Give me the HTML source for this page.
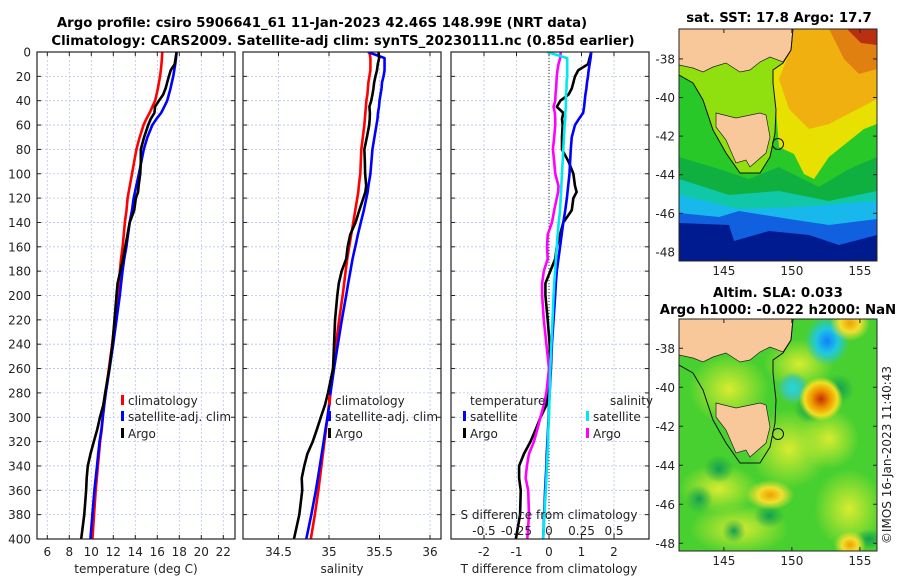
<!DOCTYPE html>
<html><head><meta charset="utf-8"><style>
html,body{margin:0;padding:0;background:#fff;}
svg{display:block;font-family:"DejaVu Sans","Liberation Sans",sans-serif;}
</style></head><body>
<svg id="fig" width="900" height="580" viewBox="0 0 900 580" xmlns="http://www.w3.org/2000/svg">
<defs>
<clipPath id="clipTop"><rect x="0" y="0" width="198" height="232"/></clipPath>
<clipPath id="clipBot"><rect x="0" y="0" width="198" height="232"/></clipPath>
<clipPath id="cp1"><rect x="37" y="52" width="198" height="487"/></clipPath>
<clipPath id="cp2"><rect x="243" y="52" width="198" height="487"/></clipPath>
<clipPath id="cp3"><rect x="451" y="52" width="198" height="487"/></clipPath>
<radialGradient id="gBlue"><stop offset="0" stop-color="#1080ff"/><stop offset="0.5" stop-color="#20c8e0"/><stop offset="1" stop-color="#20c8e0" stop-opacity="0"/></radialGradient>
<radialGradient id="gCyan"><stop offset="0" stop-color="#20d8e0"/><stop offset="0.6" stop-color="#40c8a0"/><stop offset="1" stop-color="#40c8a0" stop-opacity="0"/></radialGradient>
<radialGradient id="gRed"><stop offset="0" stop-color="#c03000"/><stop offset="0.4" stop-color="#f09000"/><stop offset="0.75" stop-color="#f0e020"/><stop offset="1" stop-color="#f0e020" stop-opacity="0"/></radialGradient>
<radialGradient id="gOr"><stop offset="0" stop-color="#f0a000"/><stop offset="0.5" stop-color="#f0e030"/><stop offset="1" stop-color="#f0e030" stop-opacity="0"/></radialGradient>
<radialGradient id="gYel"><stop offset="0" stop-color="#d8ec30"/><stop offset="1" stop-color="#d8ec30" stop-opacity="0"/></radialGradient>
<radialGradient id="gDg"><stop offset="0" stop-color="#10a050"/><stop offset="1" stop-color="#10a050" stop-opacity="0"/></radialGradient>
</defs>

<text x="322" y="27" text-anchor="middle" font-size="13.3" font-weight="bold">Argo profile: csiro 5906641_61 11-Jan-2023 42.46S 148.99E (NRT data)</text>
<text x="343" y="45" text-anchor="middle" font-size="13.3" font-weight="bold">Climatology: CARS2009. Satellite-adj clim: synTS_20230111.nc (0.85d earlier)</text>

<g id="panels"></g>
<g id="maps"></g>

<text x="779" y="22" text-anchor="middle" font-size="13.3" font-weight="bold">sat. SST: 17.8 Argo: 17.7</text>
<text x="778" y="297" text-anchor="middle" font-size="13.3" font-weight="bold">Altim. SLA: 0.033</text>
<text x="778" y="314" text-anchor="middle" font-size="13.3" font-weight="bold">Argo h1000: -0.022 h2000: NaN</text>
<text transform="translate(891,455) rotate(-90)" text-anchor="middle" font-size="12" fill="#222">©IMOS 16-Jan-2023 11:40:43</text>
</svg>
<script>
const depth=[0,5,10,15,20,25,30,35,40,45,50,55,60,70,80,90,100,110,115,120,130,140,150,160,170,180,190,200,220,240,260,280,290,300,310,320,330,340,350,360,380,400];
const climT=[16.45,16.42,16.38,16.32,16.25,16.15,16.05,15.93,15.8,15.55,15.3,15.0,14.75,14.4,14.1,13.9,13.7,13.5,13.4,13.3,13.2,13.05,12.95,12.85,12.7,12.6,12.5,12.4,12.15,11.9,11.6,11.3,11.17,11.05,10.95,10.8,10.7,10.6,10.5,10.4,10.25,10.1];
const tDiffSat=[1.3,1.28,1.25,1.22,1.2,1.17,1.15,1.12,1.1,1.08,1.05,0.92,0.8,0.7,0.67,0.65,0.63,0.59,0.57,0.55,0.5,0.44,0.39,0.34,0.29,0.24,0.21,0.19,0.14,0.09,0.06,0.02,0.0,-0.01,-0.03,-0.05,-0.07,-0.08,-0.1,-0.12,-0.15,-0.18];
const tDiffArgo=[1.3,1.25,1.2,0.9,0.8,0.75,0.7,0.6,0.35,0.24,0.44,0.4,0.42,0.4,0.4,0.6,0.75,0.8,0.85,0.75,0.7,0.44,0.34,0.24,0.19,0.04,-0.11,-0.11,-0.04,0.02,0.04,-0.04,-0.08,-0.26,-0.41,-0.57,-0.77,-0.92,-0.92,-0.87,-0.89,-1.02];
const climS=[35.40,35.41,35.41,35.41,35.40,35.39,35.385,35.38,35.37,35.365,35.36,35.355,35.35,35.335,35.32,35.315,35.31,35.295,35.29,35.28,35.26,35.24,35.22,35.2,35.18,35.165,35.15,35.135,35.1,35.07,35.04,35.01,35.0,34.985,34.97,34.955,34.94,34.925,34.91,34.895,34.86,34.82];
const sDiffSat=[-0.015,0.14,0.14,0.14,0.14,0.135,0.135,0.13,0.13,0.13,0.125,0.125,0.12,0.115,0.11,0.105,0.1,0.095,0.093,0.09,0.085,0.075,0.066,0.06,0.053,0.047,0.04,0.035,0.027,0.018,0.01,0.005,0.002,0,-0.005,-0.008,-0.012,-0.016,-0.02,-0.025,-0.035,-0.045];
const sDiffArgo=[0.09,0.086,0.073,0.065,0.06,0.057,0.055,0.05,0.048,0.035,0.045,0.048,0.048,0.04,0.03,0.04,0.048,0.073,0.07,0.06,0.04,0.023,-0.01,-0.015,-0.01,-0.04,-0.053,-0.053,-0.04,-0.02,0,-0.02,-0.04,-0.066,-0.09,-0.116,-0.154,-0.17,-0.18,-0.16,-0.154,-0.167];
const depthTicks=[0,20,40,60,80,100,120,140,160,180,200,220,240,260,280,300,320,340,360,380,400];
const tTicks=[6,8,10,12,14,16,18,20,22];
const sTicks=[34.5,35,35.5,36];
const dTicks=[-2,-1,0,1,2];
const sdTicks=[-0.5,-0.25,0,0.25,0.5];
const latTicks=[-38,-40,-42,-44,-46,-48];
const lonTicks=[145,150,155];

const NS='http://www.w3.org/2000/svg';
function mk(tag,attrs,parent){const e=document.createElementNS(NS,tag);for(const k in attrs)e.setAttribute(k,attrs[k]);if(parent)parent.appendChild(e);return e;}
const P=document.getElementById('panels');
const Y0=52,Y1=539;
const yD=d=>Y0+(d/400)*(Y1-Y0);
const xT=t=>47.3+(t-6)*11;
const xS=s=>329+(s-35)*101;
const xDf=v=>549+v*32.5;
const xSD=v=>549+v*130;
const FS=12;

function frame(x0,name){
  const g=mk('g',{},P);
  
  
  for(const d of depthTicks){
    const l=mk('line',{x1:x0,x2:x0+198,y1:yD(d),y2:yD(d),stroke:'#b8c4e8','stroke-width':0.8,'stroke-dasharray':'2,2'},g);
    
    
    mk('line',{x1:x0,x2:x0+4,y1:yD(d),y2:yD(d),stroke:'#222'},g);
    mk('line',{x1:x0+194,x2:x0+198,y1:yD(d),y2:yD(d),stroke:'#222'},g);
  }
  return g;
}
function vgrid(g,xs){for(const x of xs){const l=mk('line',{x1:x,x2:x,y1:Y0,y2:Y1,stroke:'#b8c4e8','stroke-width':0.8,'stroke-dasharray':'2,2'},g);
  
  
  mk('line',{x1:x,x2:x,y1:Y1,y2:Y1-4,stroke:'#222'},g);mk('line',{x1:x,x2:x,y1:Y0,y2:Y0+4,stroke:'#222'},g);}}
function border(g,x0){const r=mk('rect',{x:x0,y:Y0,width:198,height:Y1-Y0,fill:'none',stroke:'#222','stroke-width':1.2},g);
  
  }
function line(g,xs,color,name,clip){
  const pts=depth.map((d,i)=>xs[i].toFixed(2)+','+yD(d).toFixed(2)).join(' ');
  const pl=mk('polyline',{points:pts,fill:'none',stroke:color,'stroke-width':2.6,'stroke-linejoin':'round','clip-path':'url(#'+clip+')'},g);
  
  
}
function txt(g,x,y,s,name,anchor,size){const t=mk('text',{x:x,y:y,'font-size':size||FS,'text-anchor':anchor||'middle',fill:'#222'},g);t.textContent=s;
  
  return t;}
function legendItem(g,x,y,color,label){
  const b=mk('rect',{x:x,y:y-10,width:3,height:10,fill:color},g);
  
  
  txt(g,x+7,y,label,'legend-entry','start',FS);
}

const yl=mk('g',{},P);


for(const d of depthTicks) txt(yl,31,yD(d)+4.5,String(d),'depth-tick-label','end',FS);

const g1=frame(37,'temperature-panel');
vgrid(g1,tTicks.map(xT));
const satT=climT.map((v,i)=>v+tDiffSat[i]);
const argoT=climT.map((v,i)=>v+tDiffArgo[i]);
line(g1,climT.map(xT),'#ff0000','climatology-temperature-line','cp1');
line(g1,satT.map(xT),'#0000ff','satellite-temperature-line','cp1');
line(g1,argoT.map(xT),'#000000','argo-temperature-line','cp1');
border(g1,37);
for(const t of tTicks) txt(g1,xT(t),556,String(t),'temperature-tick-label');
txt(g1,136,573,'temperature (deg C)','temperature-axis-title');
legendItem(g1,121,405,'#ff0000','climatology');
legendItem(g1,121,421,'#0000ff','satellite-adj. clim');
legendItem(g1,121,438,'#000000','Argo');

const g2=frame(243,'salinity-panel');
vgrid(g2,sTicks.map(xS));
const satS=climS.map((v,i)=>v+sDiffSat[i]);
const argoS=climS.map((v,i)=>v+sDiffArgo[i]);
line(g2,climS.map(xS),'#ff0000','climatology-salinity-line','cp2');
line(g2,satS.map(xS),'#0000ff','satellite-salinity-line','cp2');
line(g2,argoS.map(xS),'#000000','argo-salinity-line','cp2');
border(g2,243);
for(const s of sTicks) txt(g2,xS(s),556,String(s),'salinity-tick-label');
txt(g2,342,573,'salinity','salinity-axis-title');
legendItem(g2,328,405,'#ff0000','climatology');
legendItem(g2,328,421,'#0000ff','satellite-adj. clim');
legendItem(g2,328,438,'#000000','Argo');

const g3=frame(451,'difference-panel');
vgrid(g3,dTicks.map(xDf));
const zl=mk('line',{x1:549,x2:549,y1:Y0,y2:Y1,stroke:'#333','stroke-width':1,'stroke-dasharray':'1,2'},g3);


line(g3,tDiffArgo.map(xDf),'#000000','argo-temperature-diff-line','cp3');
line(g3,sDiffArgo.map(xSD),'#ff00ff','argo-salinity-diff-line','cp3');
line(g3,tDiffSat.map(xDf),'#0000ff','satellite-temperature-diff-line','cp3');
line(g3,sDiffSat.map(xSD),'#00e8f0','satellite-salinity-diff-line','cp3');
border(g3,451);
for(const v of dTicks) txt(g3,xDf(v),556,String(v),'t-diff-tick-label');
txt(g3,549,573,'T difference from climatology','t-diff-axis-title');
txt(g3,549,519,'S difference from climatology','s-diff-axis-title');
for(const v of sdTicks) txt(g3,xSD(v),535,String(v),'s-diff-tick-label');
txt(g3,470,405,'temperature','legend-title-temperature','start');
legendItem(g3,463,421,'#0000ff','satellite');
legendItem(g3,463,438,'#000000','Argo');
txt(g3,610,405,'salinity','legend-title-salinity','start');
legendItem(g3,586,421,'#00e8f0','satellite');
legendItem(g3,586,438,'#ff00ff','Argo');

const M=document.getElementById('maps');
const mainland='0,36 14,39 24,43 34,38 47,34 61,43 71,41 81,33 91,28 104,33 112,21 114,0 0,0';
const tas='37,84 57,89 81,84 87,86 91,108 87,124 71,138 67,131 57,134 47,111 37,98';
const contour='0,46 14,54 24,71 34,101 47,124 61,144 81,144 91,128 96,104 97,81 94,54 94,41 104,34 112,21 114,0';
function mapAxes(g,x0,y0,latTop,latPerPx,lonName){
  const lx=lon=>x0+(lon-141.7)*13.6;
  for(const lat of latTicks){const y=y0+(latTop-lat)*latPerPx;
    mk('line',{x1:x0,x2:x0+4,y1:y,y2:y,stroke:'#222'},g);mk('line',{x1:x0+194,x2:x0+198,y1:y,y2:y,stroke:'#222'},g);
    txt(g,x0-4,y+4.5,String(lat),'latitude-tick-label','end',FS);}
  for(const lon of lonTicks){const x=lx(lon);
    mk('line',{x1:x,x2:x,y1:y0+232,y2:y0+228,stroke:'#222'},g);mk('line',{x1:x,x2:x,y1:y0,y2:y0+4,stroke:'#222'},g);
    txt(g,x,y0+246,String(lon),lonName,'middle',FS);}
}
function landAndCoast(g){
  const l1=mk('polygon',{points:mainland,fill:'#f8c89a',stroke:'#222','stroke-width':0.7},g);
  
  
  const l2=mk('polygon',{points:tas,fill:'#f8c89a',stroke:'#222','stroke-width':0.7},g);
  
  
  const c=mk('polyline',{points:contour,fill:'none',stroke:'#111','stroke-width':1},g);
  
  
  const ci=mk('circle',{cx:99,cy:115,r:5.5,fill:'none',stroke:'#111','stroke-width':1},g);
  
  
}
const gt=mk('g',{transform:'translate(679,29)'},M);


const gtc=mk('g',{'clip-path':'url(#clipTop)'},gt);
mk('rect',{x:0,y:0,width:198,height:232,fill:'#28c828'},gtc);
mk('polygon',{points:contour+' 0,0',fill:'#90e010'},gtc);
mk('polygon',{points:'104,34 114,0 198,0 198,95 185,100 170,112 150,128 135,150 125,145 115,125 100,118 97,81 94,54 94,41',fill:'#e8e000'},gtc);
mk('polygon',{points:'115,0 198,0 198,70 175,82 150,95 130,100 110,80 100,50 108,30',fill:'#f0b010'},gtc);
mk('polygon',{points:'150,0 198,0 198,40 180,45 165,30',fill:'#e08010'},gtc);
mk('polygon',{points:'168,0 198,0 198,16 182,14',fill:'#b83010'},gtc);
mk('polygon',{points:'0,128 40,140 70,150 100,138 140,158 170,140 198,128 198,232 0,232',fill:'#10b040'},gtc);
mk('polygon',{points:'0,150 50,166 100,162 150,172 198,162 198,232 0,232',fill:'#10c8a8'},gtc);
mk('polygon',{points:'0,166 60,180 120,178 198,172 198,232 0,232',fill:'#18b8ec'},gtc);
mk('polygon',{points:'0,184 40,188 60,182 110,190 150,196 198,190 198,232 0,232',fill:'#1060e0'},gtc);
mk('polygon',{points:'0,194 50,196 55,212 90,202 130,206 160,216 198,206 198,232 0,232',fill:'#001a90'},gtc);
landAndCoast(gtc);
mk('rect',{x:0,y:0,width:198,height:232,fill:'none',stroke:'#222','stroke-width':1},gt);
mapAxes(M,679,29,-36.45,19.3,'sst-longitude-tick-label');

const gb=mk('g',{transform:'translate(679,319)'},M);


const gbc=mk('g',{'clip-path':'url(#clipBot)'},gb);
mk('rect',{x:0,y:0,width:198,height:232,fill:'#48d030'},gbc);
const yel=[[50,70,40,35],[120,45,35,25],[40,170,40,25],[110,130,40,40],[170,190,35,40],[60,210,50,25],[150,120,30,30]];
for(const e of yel) mk('ellipse',{cx:e[0],cy:e[1],rx:e[2],ry:e[3],fill:'url(#gYel)'},gbc);
const dg=[[40,150,15,14],[130,90,15,14],[90,197,15,12],[55,212,12,12],[160,70,15,15],[20,180,14,14],[190,220,15,10]];
for(const e of dg) mk('ellipse',{cx:e[0],cy:e[1],rx:e[2],ry:e[3],fill:'url(#gDg)'},gbc);
mk('ellipse',{cx:148,cy:22,rx:22,ry:25,fill:'url(#gBlue)'},gbc);
mk('ellipse',{cx:114,cy:69,rx:16,ry:16,fill:'url(#gCyan)'},gbc);
mk('ellipse',{cx:142,cy:80,rx:22,ry:22,fill:'url(#gRed)'},gbc);
mk('ellipse',{cx:91,cy:176,rx:24,ry:15,fill:'url(#gOr)'},gbc);
mk('ellipse',{cx:171,cy:4,rx:20,ry:18,fill:'url(#gOr)'},gbc);
mk('ellipse',{cx:171,cy:226,rx:16,ry:14,fill:'url(#gOr)'},gbc);
landAndCoast(gbc);
mk('rect',{x:0,y:0,width:198,height:232,fill:'none',stroke:'#222','stroke-width':1},gb);
mapAxes(M,679,319,-36.5,19.5,'sla-longitude-tick-label');
</script>
</body></html>
